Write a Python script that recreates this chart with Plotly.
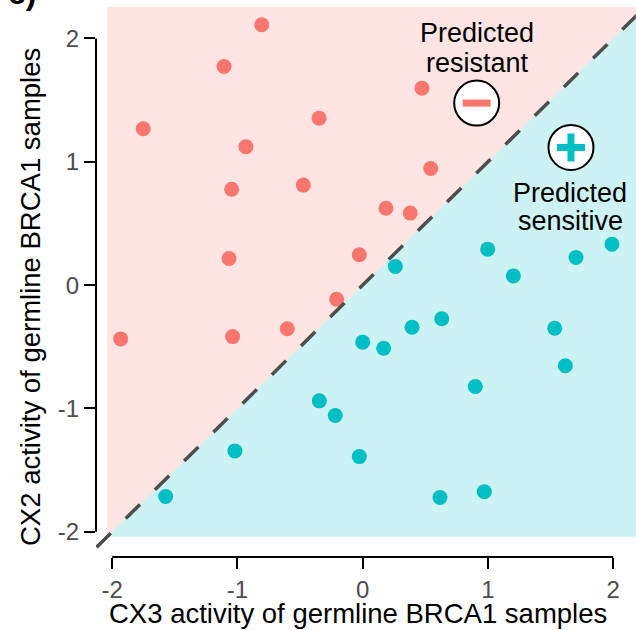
import plotly.graph_objects as go

# CX3 / CX2 activity for germline BRCA1 samples, split by predicted response
resistant_cx3 = [-0.806, -1.107, -1.752, -0.932, -1.046, -0.474, -1.067, -0.348,
                 -1.932, -1.038, -0.602, 0.473, 0.543, 0.186, 0.380, -0.027, -0.208]
resistant_cx2 = [2.111, 1.773, 1.268, 1.122, 0.778, 0.811, 0.216, 1.354,
                 -0.436, -0.417, -0.354, 1.597, 0.946, 0.624, 0.584, 0.246, -0.114]

sensitive_cx3 = [0.261, 0.998, 1.203, 1.703, 1.990, 0.631, 0.394, 0.000, 0.168,
                 1.533, 1.618, 0.899, -0.346, -0.219, -0.027, 0.617, 0.971,
                 -1.020, -1.573]
sensitive_cx2 = [0.151, 0.292, 0.075, 0.224, 0.332, -0.273, -0.341, -0.462, -0.511,
                 -0.349, -0.654, -0.822, -0.938, -1.057, -1.390, -1.722, -1.674,
                 -1.344, -1.714]

tick_vals = [-2, -1, 0, 1, 2]
tick_text = ["-2", "-1", "0", "1", "2"]

RED = "#F8766D"
CYAN = "#00BFC4"
FONT = "Liberation Sans, Arial, sans-serif"

W, H = 636, 630
ML, MR, MT, MB = 96, 0, 7, 73
X_RANGE = [-2.129, 2.182]
Y_RANGE = [-2.204, 2.255]

# background regions split by the identity line
lo, hi = -2.04, 2.255
regions = [
    dict(type="path", xref="x", yref="y", layer="below", line_width=0,
         fillcolor="rgba(248,118,109,0.2)",
         path=f"M{lo},{lo} L{lo},{hi} L{hi},{hi} Z"),
    dict(type="path", xref="x", yref="y", layer="below", line_width=0,
         fillcolor="rgba(0,191,196,0.2)",
         path=f"M{lo},{lo} L{hi},{hi} L2.4,{hi} L2.4,{lo} Z"),
    # decision boundary y = x
    dict(type="line", xref="x", yref="y", x0=-2.125, y0=-2.125, x1=2.4, y1=2.4,
         line=dict(color="#4D4D4D", width=3.5, dash="20px,21px")),
    # offset axis lines spanning the tick range
    dict(type="line", xref="x", yref="paper", x0=-2, x1=2, y0=0, y1=0,
         line=dict(color="black", width=2)),
    dict(type="line", xref="paper", yref="y", x0=0, x1=0, y0=-2, y1=2,
         line=dict(color="black", width=2)),
]

fig = go.Figure()
fig.add_trace(go.Scatter(x=resistant_cx3, y=resistant_cx2, mode="markers",
                         marker=dict(size=15, color=RED), cliponaxis=False,
                         name="Predicted resistant", showlegend=False))
fig.add_trace(go.Scatter(x=sensitive_cx3, y=sensitive_cx2, mode="markers",
                         marker=dict(size=15, color=CYAN), cliponaxis=False,
                         name="Predicted sensitive", showlegend=False))

# badge icons: circled minus / circled plus
badge_x = [0.910, 1.663]
badge_y = [1.476, 1.116]
fig.add_trace(go.Scatter(x=badge_x, y=badge_y, mode="markers", hoverinfo="skip",
                         marker=dict(size=45, color="white",
                                     line=dict(color="black", width=2)),
                         showlegend=False))
fig.add_trace(go.Scatter(x=[badge_x[0]], y=[badge_y[0]], mode="markers",
                         hoverinfo="skip",
                         marker=dict(symbol="line-ew", size=20, color=RED,
                                     line=dict(color=RED, width=7)),
                         showlegend=False))
fig.add_trace(go.Scatter(x=[badge_x[1]], y=[badge_y[1]], mode="markers",
                         hoverinfo="skip",
                         marker=dict(symbol="cross-thin", size=20, color=CYAN,
                                     line=dict(color=CYAN, width=7)),
                         showlegend=False))


def px_to_paper_x(px):
    return (px - ML) / (W - ML - MR)


def px_to_paper_y(py):
    return (H - MB - py) / (H - MT - MB)


def label(text, px, py, size=27, **kw):
    return dict(text=text, x=px_to_paper_x(px), y=px_to_paper_y(py),
                xref="paper", yref="paper", showarrow=False,
                font=dict(family=FONT, size=size, color="black"),
                xanchor="center", yanchor="middle", **kw)


annotations = [
    label("Predicted", 477, 33),
    label("resistant", 477, 62.5),
    label("Predicted", 570, 192.5),
    label("sensitive", 570, 221),
    label("CX3 activity of germline BRCA1 samples", 358, 613.5, size=27.5),
    label("CX2 activity of germline BRCA1 samples", 30, 297, size=27.5,
          textangle=-90),
    dict(text="<b>c)</b>", x=px_to_paper_x(38), y=px_to_paper_y(13),
         xref="paper", yref="paper", showarrow=False,
         font=dict(family=FONT, size=32, color="black"),
         xanchor="right", yanchor="bottom"),
]

axis_common = dict(showgrid=False, zeroline=False, showline=False,
                   ticks="outside", ticklen=11, tickwidth=2, tickcolor="black",
                   tickvals=tick_vals, ticktext=tick_text,
                   tickfont=dict(family=FONT, size=24, color="#4D4D4D"))

fig.update_layout(
    width=W, height=H,
    margin=dict(l=ML, r=MR, t=MT, b=MB, pad=0),
    paper_bgcolor="white", plot_bgcolor="white",
    xaxis=dict(range=X_RANGE, **axis_common),
    yaxis=dict(range=Y_RANGE, **axis_common),
    shapes=regions,
    annotations=annotations,
    font=dict(family=FONT),
)

fig.write_html("out.html")
